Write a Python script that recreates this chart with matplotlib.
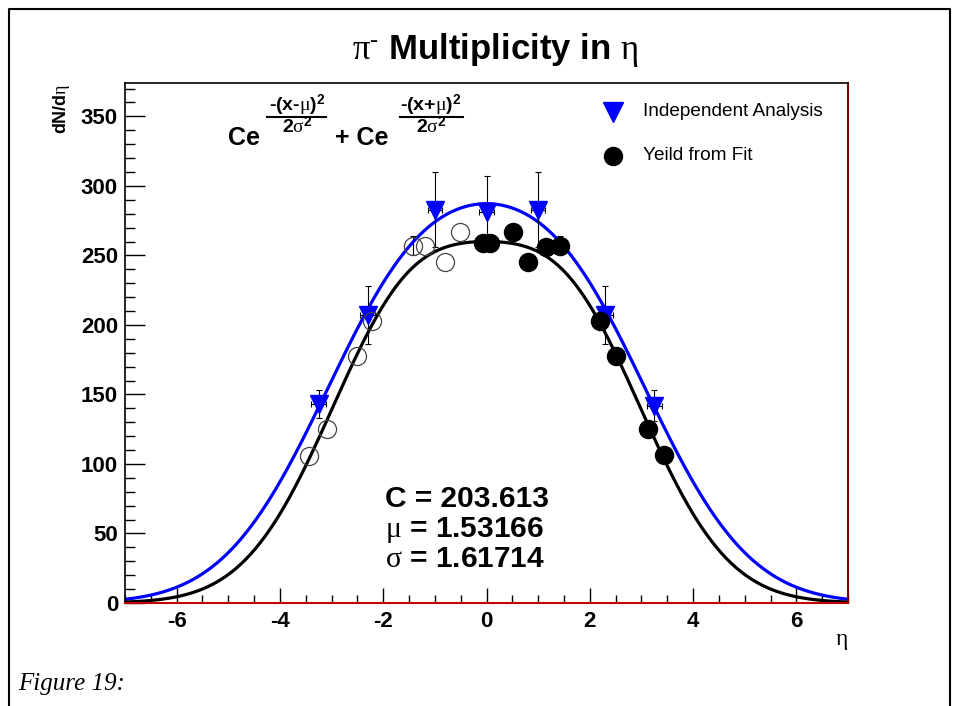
import numpy as np
import matplotlib
matplotlib.use('Agg')
import matplotlib.pyplot as plt
from matplotlib.lines import Line2D
from matplotlib.ticker import MultipleLocator

W, H = 959, 706

plt.rcParams['font.family'] = ['Liberation Sans', 'DejaVu Sans']
plt.rcParams['font.weight'] = 'bold'
plt.rcParams['axes.unicode_minus'] = False
plt.rcParams['mathtext.fontset'] = 'custom'
plt.rcParams['mathtext.rm'] = 'Liberation Serif:weight=normal'
plt.rcParams['mathtext.it'] = 'Liberation Serif:italic:weight=normal'
plt.rcParams['mathtext.bf'] = 'Liberation Sans:bold'
plt.rcParams['mathtext.sf'] = 'Liberation Sans:bold'

# fit parameters: black = printed fit, blue = independent analysis curve
fit_C, fit_mu, fit_sigma = 203.613, 1.53166, 1.61714
ind_C, ind_mu, ind_sigma = 204.0, 1.55, 1.85

# independent analysis (blue triangles)
ind_eta = [-3.25, -2.3, -1.0, 0.0, 1.0, 2.3, 3.25]
ind_val = [143, 207, 283, 281, 283, 207, 142]
ind_err = [10, 21, 27, 26, 27, 21, 11]
ind_xerr = [0.14, 0.14, 0.14, 0.14, 0.14, 0.14, 0.14]

# yield from fit (filled) and reflected points (open)
fit_eta = [-0.07, 0.07, 0.51, 0.80, 1.16, 1.43, 2.20, 2.50, 3.12, 3.44]
fit_val = [259, 259, 267, 245.5, 256, 257, 203, 178, 125, 106.5]
fit_err = [5, 5, 5, 5, 5, 7, 5, 5, 5, 5]
ref_eta = [-0.51, -0.80, -1.20, -1.43, -2.21, -2.50, -3.08, -3.44]
ref_val = [267, 245.5, 256.5, 257, 203, 178, 125.5, 106]
ref_err = [0, 0, 0, 7, 0, 0, 0, 0]


def double_gauss(x, c, mu, sigma):
    """Symmetric double gaussian used for the fit."""
    return (c * np.exp(-(x - mu) ** 2 / (2 * sigma ** 2))
            + c * np.exp(-(x + mu) ** 2 / (2 * sigma ** 2)))


def px(x, y):
    """Pixel position to figure fraction."""
    return x / W, 1 - y / H


fig = plt.figure(figsize=(W / 100, H / 100), dpi=100)
ax = fig.add_axes([125 / W, 1 - 603 / H, (848 - 125) / W, (603 - 83) / H])

eta = np.linspace(-7, 7, 600)
ax.plot(eta, double_gauss(eta, ind_C, ind_mu, ind_sigma),
        color='#0000ff', lw=2.3, zorder=2)
ax.plot(eta, double_gauss(eta, fit_C, fit_mu, fit_sigma),
        color='black', lw=2.3, zorder=2)

bar_style = dict(fmt='none', ecolor='black', elinewidth=0.8, capsize=2.2,
                 capthick=0.8, zorder=3)
ax.errorbar(ind_eta, ind_val, yerr=ind_err, xerr=ind_xerr, **bar_style)
ax.plot(ind_eta, ind_val, 'v', color='#0000ff', ms=12.5, zorder=4)

# only the reflected points with a visible error get a bar
ref = np.array([ref_eta, ref_val, ref_err])
has_err = ref[2] > 0
ax.errorbar(ref[0][has_err], ref[1][has_err], yerr=ref[2][has_err],
            **bar_style)
ax.plot(ref_eta, ref_val, 'o', mfc='none', mec='#444444', mew=0.9,
        ms=13, zorder=4)

ax.errorbar(fit_eta, fit_val, yerr=fit_err, **bar_style)
ax.plot(fit_eta, fit_val, 'o', color='black', ms=13, zorder=4)

ax.set_xlim(-7, 7)
ax.set_ylim(0, 374)
ax.xaxis.set_major_locator(MultipleLocator(2))
ax.xaxis.set_minor_locator(MultipleLocator(0.5))
ax.yaxis.set_major_locator(MultipleLocator(50))
ax.yaxis.set_minor_locator(MultipleLocator(10))
ax.tick_params(which='both', direction='in', top=False, right=False,
               labelsize=16, width=1)
ax.tick_params(axis='y', which='major', length=14.5, pad=5)
ax.tick_params(axis='y', which='minor', length=7.2)
ax.tick_params(axis='x', which='major', length=11, pad=6)
ax.tick_params(axis='x', which='minor', length=6)

for side in ['left', 'top']:
    ax.spines[side].set_color('black')
    ax.spines[side].set_linewidth(1.2)
ax.spines['bottom'].set_color('#c00000')
ax.spines['bottom'].set_linewidth(1.5)
ax.spines['right'].set_color('#800000')
ax.spines['right'].set_linewidth(1.5)

# title and axis titles
fig.text(*px(495, 50), r'$\mathrm{\pi}^{\mathbf{\text{-}}}$ Multiplicity in $\mathrm{\eta}$',
         ha='center', va='center', fontsize=25)
fig.text(*px(62, 84), r'dN/d$\mathrm{\eta}$', rotation=90, ha='center',
         va='top', fontsize=13)
fig.text(*px(842, 640), r'$\mathrm{\eta}$', ha='center', va='center',
         fontsize=17)

# fit function
fig.text(*px(228, 145), 'Ce', ha='left', va='baseline', fontsize=18)
fig.text(*px(335, 145), '+ Ce', ha='left', va='baseline', fontsize=18)
fig.text(*px(297, 111), r'-(x-$\mathrm{\mu}$)$^{\mathbf{2}}$', ha='center',
         va='baseline', fontsize=14)
fig.text(*px(431, 111), r'-(x+$\mathrm{\mu}$)$^{\mathbf{2}}$', ha='center',
         va='baseline', fontsize=14)
fig.text(*px(297, 133), r'2$\mathrm{\sigma}^{\mathbf{2}}$', ha='center',
         va='baseline', fontsize=14)
fig.text(*px(431, 133), r'2$\mathrm{\sigma}^{\mathbf{2}}$', ha='center',
         va='baseline', fontsize=14)
for x0, x1 in [(267, 326), (400, 463)]:
    fig.add_artist(Line2D([x0 / W, x1 / W], [1 - 117 / H, 1 - 117 / H],
                          color='black', lw=1.5))

# fit results
fig.text(*px(385, 507), 'C = 203.613', va='baseline', fontsize=21.5)
fig.text(*px(385, 537), r'$\mathrm{\mu}$ = 1.53166', va='baseline',
         fontsize=21.5)
fig.text(*px(385, 567), r'$\mathrm{\sigma}$ = 1.61714', va='baseline',
         fontsize=21.5)

# legend
fig.add_artist(Line2D([613 / W], [1 - 112 / H], marker='v', ls='none',
                      color='#0000ff', ms=14))
fig.add_artist(Line2D([613 / W], [1 - 156 / H], marker='o', ls='none',
                      color='black', ms=13))
fig.text(*px(643, 112), 'Independent Analysis', va='center', fontsize=13.7,
         fontweight='normal')
fig.text(*px(643, 156), 'Yeild from Fit', va='center', fontsize=13.7,
         fontweight='normal')

# page frame and caption
fig.add_artist(Line2D([9 / W, 9 / W, 950 / W, 950 / W],
                      [0, 1 - 9 / H, 1 - 9 / H, 0], color='black', lw=1.5))
fig.text(*px(18, 690), 'Figure 19:', family='Liberation Serif',
         style='italic', fontweight='normal', fontsize=18, va='baseline')

fig.savefig('out.png', dpi=100)
